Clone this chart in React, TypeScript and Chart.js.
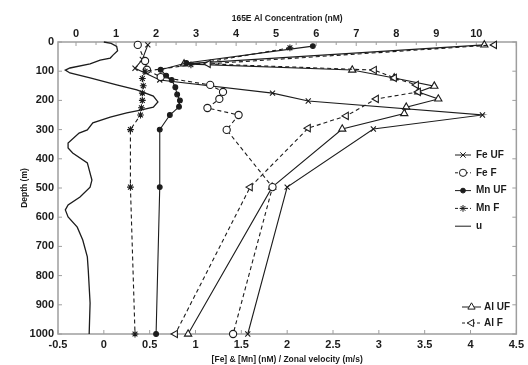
import React, { useEffect, useRef } from "react";
import { Chart, registerables } from "chart.js";

Chart.register(...registerables);

// ---- tick labels ----
const depthTicks = [0, 100, 200, 300, 400, 500, 600, 700, 800, 900, 1000];
const bottomTicks = [-0.5, 0, 0.5, 1, 1.5, 2, 2.5, 3, 3.5, 4, 4.5];
const topTicks = [0, 1, 2, 3, 4, 5, 6, 7, 8, 9, 10];

// ---- series (depth in m, values) ----
const feUFDepth = [10, 60, 90, 130, 175, 202, 250, 298, 497, 1000];
const feUF = [0.48, 0.42, 0.34, 0.61, 1.84, 2.23, 4.13, 2.94, 2.0, 1.57];

const feFDepth = [10, 65, 95, 120, 147, 171, 195, 226, 250, 301, 497, 1000];
const feF = [0.37, 0.45, 0.47, 0.62, 1.16, 1.3, 1.26, 1.13, 1.47, 1.34, 1.84, 1.41];

const mnUFDepth = [14, 72, 95, 115, 130, 155, 180, 200, 222, 250, 300, 497, 1000];
const mnUF = [2.28, 0.9, 0.62, 0.68, 0.74, 0.78, 0.8, 0.83, 0.82, 0.72, 0.61, 0.61, 0.57];

const mnFDepth = [20, 78, 100, 125, 150, 175, 200, 225, 250, 300, 497, 1000];
const mnF = [2.03, 0.95, 0.45, 0.42, 0.43, 0.42, 0.42, 0.41, 0.4, 0.29, 0.29, 0.34];

const uDepth = [0, 5, 15, 30, 45, 55, 62, 75, 89, 96, 106, 123, 147, 164, 185, 205, 223, 233, 243, 257, 277, 301, 312, 346, 363, 380, 414, 473, 497, 531, 558, 575, 599, 634, 678, 736, 781, 894, 1000];
const uVel = [0.0, 0.08, 0.14, 0.15, 0.1, 0.07, -0.04, -0.15, -0.37, -0.42, -0.37, -0.15, 0.14, 0.36, 0.54, 0.59, 0.54, 0.4, 0.25, 0.07, -0.12, -0.18, -0.27, -0.39, -0.39, -0.34, -0.18, -0.13, -0.15, -0.26, -0.39, -0.42, -0.39, -0.29, -0.23, -0.18, -0.17, -0.15, -0.16];

const alUFDepth = [10, 75, 96, 123, 151, 171, 195, 223, 245, 298, 497, 1000];
const alUF = [10.2, 2.7, 6.9, 7.95, 8.95, 8.55, 9.05, 8.25, 8.2, 6.65, 4.9, 2.8];

const alFDepth = [10, 75, 96, 123, 147, 171, 195, 253, 295, 497, 1000];
const alF = [10.45, 3.3, 7.45, 7.95, 8.5, 8.55, 7.5, 6.75, 5.8, 4.35, 2.48];

const FONT = "'Liberation Sans', Arial, Helvetica, sans-serif";
const INK = "#1c1c1c";
const FRAME = "#9e9e9e";

type Sty = { style: string; r: number; rot: number; fill: string | null; dash: number[] };

const styles: Record<string, Sty> = {
  "Fe UF": { style: "crossRot", r: 3.6, rot: 0, fill: null, dash: [] },
  "Fe F": { style: "circle", r: 3.6, rot: 0, fill: "#fff", dash: [4, 3] },
  "Mn UF": { style: "circle", r: 2.4, rot: 0, fill: INK, dash: [] },
  "Mn F": { style: "star", r: 3.4, rot: 0, fill: null, dash: [4, 3] },
  u: { style: "none", r: 0, rot: 0, fill: null, dash: [] },
  "Al UF": { style: "triangle", r: 4.2, rot: 0, fill: "#fff", dash: [] },
  "Al F": { style: "triangle", r: 4.2, rot: -90, fill: "#fff", dash: [4, 3] },
};

function pts(vals: number[], depths: number[]) {
  return vals.map((v, i) => ({ x: v, y: depths[i] }));
}

function ds(label: string, vals: number[], depths: number[], axis: string) {
  const s = styles[label];
  return {
    label,
    data: pts(vals, depths),
    xAxisID: axis,
    yAxisID: "y",
    showLine: true,
    borderColor: INK,
    borderWidth: label === "u" ? 1.3 : 1.1,
    borderDash: s.dash,
    backgroundColor: s.fill || INK,
    pointStyle: s.style === "none" ? "circle" : s.style,
    pointRadius: s.r,
    pointRotation: s.rot,
    pointBorderColor: INK,
    pointBackgroundColor: s.fill || "rgba(0,0,0,0)",
    pointBorderWidth: 1.1,
    clip: false as any,
    tension: 0,
  };
}

function drawMarker(ctx: CanvasRenderingContext2D, s: Sty, x: number, y: number) {
  if (s.style === "none") return;
  ctx.save();
  ctx.translate(x, y);
  ctx.rotate((s.rot * Math.PI) / 180);
  ctx.setLineDash([]);
  ctx.strokeStyle = INK;
  ctx.lineWidth = 1;
  ctx.beginPath();
  const r = s.r;
  if (s.style === "crossRot") {
    const d = r * 0.75;
    ctx.moveTo(-d, -d);
    ctx.lineTo(d, d);
    ctx.moveTo(-d, d);
    ctx.lineTo(d, -d);
    ctx.stroke();
  } else if (s.style === "star") {
    const d = r * 0.707;
    ctx.moveTo(-r, 0); ctx.lineTo(r, 0);
    ctx.moveTo(0, -r); ctx.lineTo(0, r);
    ctx.moveTo(-d, -d); ctx.lineTo(d, d);
    ctx.moveTo(-d, d); ctx.lineTo(d, -d);
    ctx.stroke();
  } else if (s.style === "circle") {
    ctx.arc(0, 0, r, 0, Math.PI * 2);
    if (s.fill) { ctx.fillStyle = s.fill; ctx.fill(); }
    ctx.stroke();
  } else if (s.style === "triangle") {
    for (let k = 0; k < 3; k++) {
      const a = -Math.PI / 2 + (k * 2 * Math.PI) / 3;
      const px = Math.cos(a) * r, py = Math.sin(a) * r;
      if (k === 0) ctx.moveTo(px, py); else ctx.lineTo(px, py);
    }
    ctx.closePath();
    if (s.fill) { ctx.fillStyle = s.fill; ctx.fill(); }
    ctx.stroke();
  }
  ctx.restore();
}

const framePlugin = {
  id: "frameTicks",
  beforeDatasetsDraw(chart: any) {
    const { ctx, chartArea: a, scales } = chart;
    ctx.save();
    ctx.strokeStyle = FRAME;
    ctx.lineWidth = 1.5;
    ctx.strokeRect(a.left, a.top, a.right - a.left, a.bottom - a.top);
    ctx.lineWidth = 1;
    ctx.beginPath();
    depthTicks.forEach((v) => {
      const y = scales.y.getPixelForValue(v);
      ctx.moveTo(a.left, y); ctx.lineTo(a.left + 4, y);
      ctx.moveTo(a.right, y); ctx.lineTo(a.right - 4, y);
    });
    bottomTicks.forEach((v) => {
      const x = scales.x.getPixelForValue(v);
      ctx.moveTo(x, a.bottom); ctx.lineTo(x, a.bottom - 4);
    });
    for (let v = 0; v <= 11; v += 0.5) {
      const x = scales.x2.getPixelForValue(v);
      const len = Number.isInteger(v) ? 4 : 3;
      ctx.moveTo(x, a.top); ctx.lineTo(x, a.top + len);
    }
    ctx.stroke();
    ctx.restore();
  },
};

const legendTop = ["Fe UF", "Fe F", "Mn UF", "Mn F", "u"];
const legendBottom = ["Al UF", "Al F"];

const legendPlugin = {
  id: "innerLegend",
  afterDraw(chart: any) {
    const { ctx } = chart;
    ctx.save();
    ctx.font = `bold 10px ${FONT}`;
    ctx.fillStyle = INK;
    ctx.textBaseline = "middle";
    ctx.textAlign = "left";
    const drawEntry = (label: string, x0: number, x1: number, y: number, tx: number) => {
      const s = styles[label];
      ctx.strokeStyle = INK;
      ctx.lineWidth = 1;
      ctx.setLineDash(s.dash.length ? [3, 2] : []);
      ctx.beginPath();
      ctx.moveTo(x0, y);
      ctx.lineTo(x1, y);
      ctx.stroke();
      ctx.setLineDash([]);
      drawMarker(ctx, s, (x0 + x1) / 2, y);
      ctx.fillText(label, tx, y);
    };
    legendTop.forEach((l, i) => drawEntry(l, 455, 471, 155 + i * 17.8, 476));
    legendBottom.forEach((l, i) => drawEntry(l, 462, 481, 307 + i * 16, 484));
    ctx.restore();
  },
};

export default function App() {
  const ref = useRef<HTMLCanvasElement | null>(null);
  useEffect(() => {
    if (!ref.current) return;
    const tickFont = { family: FONT, size: 11, weight: "bold" as const };
    const titleFont = { family: FONT, size: 8.5, weight: "bold" as const };
    const chart = new Chart(ref.current, {
      type: "scatter",
      data: {
        datasets: [
          ds("u", uVel, uDepth, "x"),
          ds("Mn F", mnF, mnFDepth, "x"),
          ds("Mn UF", mnUF, mnUFDepth, "x"),
          ds("Fe F", feF, feFDepth, "x"),
          ds("Fe UF", feUF, feUFDepth, "x"),
          ds("Al F", alF, alFDepth, "x2"),
          ds("Al UF", alUF, alUFDepth, "x2"),
        ] as any,
      },
      options: {
        animation: false,
        responsive: false,
        devicePixelRatio: 1,
        layout: { padding: { left: 0, top: 0, right: 11, bottom: 0 } },
        plugins: { legend: { display: false }, tooltip: { enabled: false } },
        scales: {
          x: {
            type: "linear",
            position: "bottom",
            min: -0.5,
            max: 4.5,
            afterBuildTicks: (s: any) => { s.ticks = bottomTicks.map((v) => ({ value: v })); },
            afterFit: (s: any) => { s.height = 31; },
            grid: { display: false, drawTicks: false },
            border: { display: false },
            ticks: { padding: 4, color: INK, font: tickFont, autoSkip: false, maxRotation: 0, callback: (v: any) => String(v) },
            title: { display: true, text: "[Fe] & [Mn] (nM) / Zonal velocity (m/s)", color: INK, font: titleFont, padding: { top: 0, bottom: 0 } },
          },
          x2: {
            type: "linear",
            position: "top",
            min: -0.45,
            max: 11.0,
            afterBuildTicks: (s: any) => { s.ticks = topTicks.map((v) => ({ value: v })); },
            afterFit: (s: any) => { s.height = 42; },
            grid: { display: false, drawTicks: false },
            border: { display: false },
            ticks: { padding: 1, color: INK, font: tickFont, autoSkip: false, maxRotation: 0, callback: (v: any) => String(v) },
            title: { display: true, text: "165E Al Concentration (nM)", color: INK, font: titleFont, padding: { top: 14, bottom: 0 } },
          },
          y: {
            type: "linear",
            position: "left",
            reverse: true,
            min: 0,
            max: 1000,
            afterBuildTicks: (s: any) => { s.ticks = depthTicks.map((v) => ({ value: v })); },
            afterFit: (s: any) => { s.width = 58; },
            grid: { display: false, drawTicks: false },
            border: { display: false },
            ticks: { padding: 4, color: INK, font: tickFont, autoSkip: false, callback: (v: any) => String(v) },
            title: { display: true, text: "Depth (m)", color: INK, font: titleFont, padding: { top: 20, bottom: 0 } },
          },
        },
      } as any,
      plugins: [framePlugin, legendPlugin],
    });
    return () => chart.destroy();
  }, []);
  return (
    <div style={{ position: "absolute", left: 0, top: 0, width: 528, height: 365, background: "#fff" }}>
      <canvas ref={ref} width={528} height={365} style={{ display: "block" }} />
    </div>
  );
}
